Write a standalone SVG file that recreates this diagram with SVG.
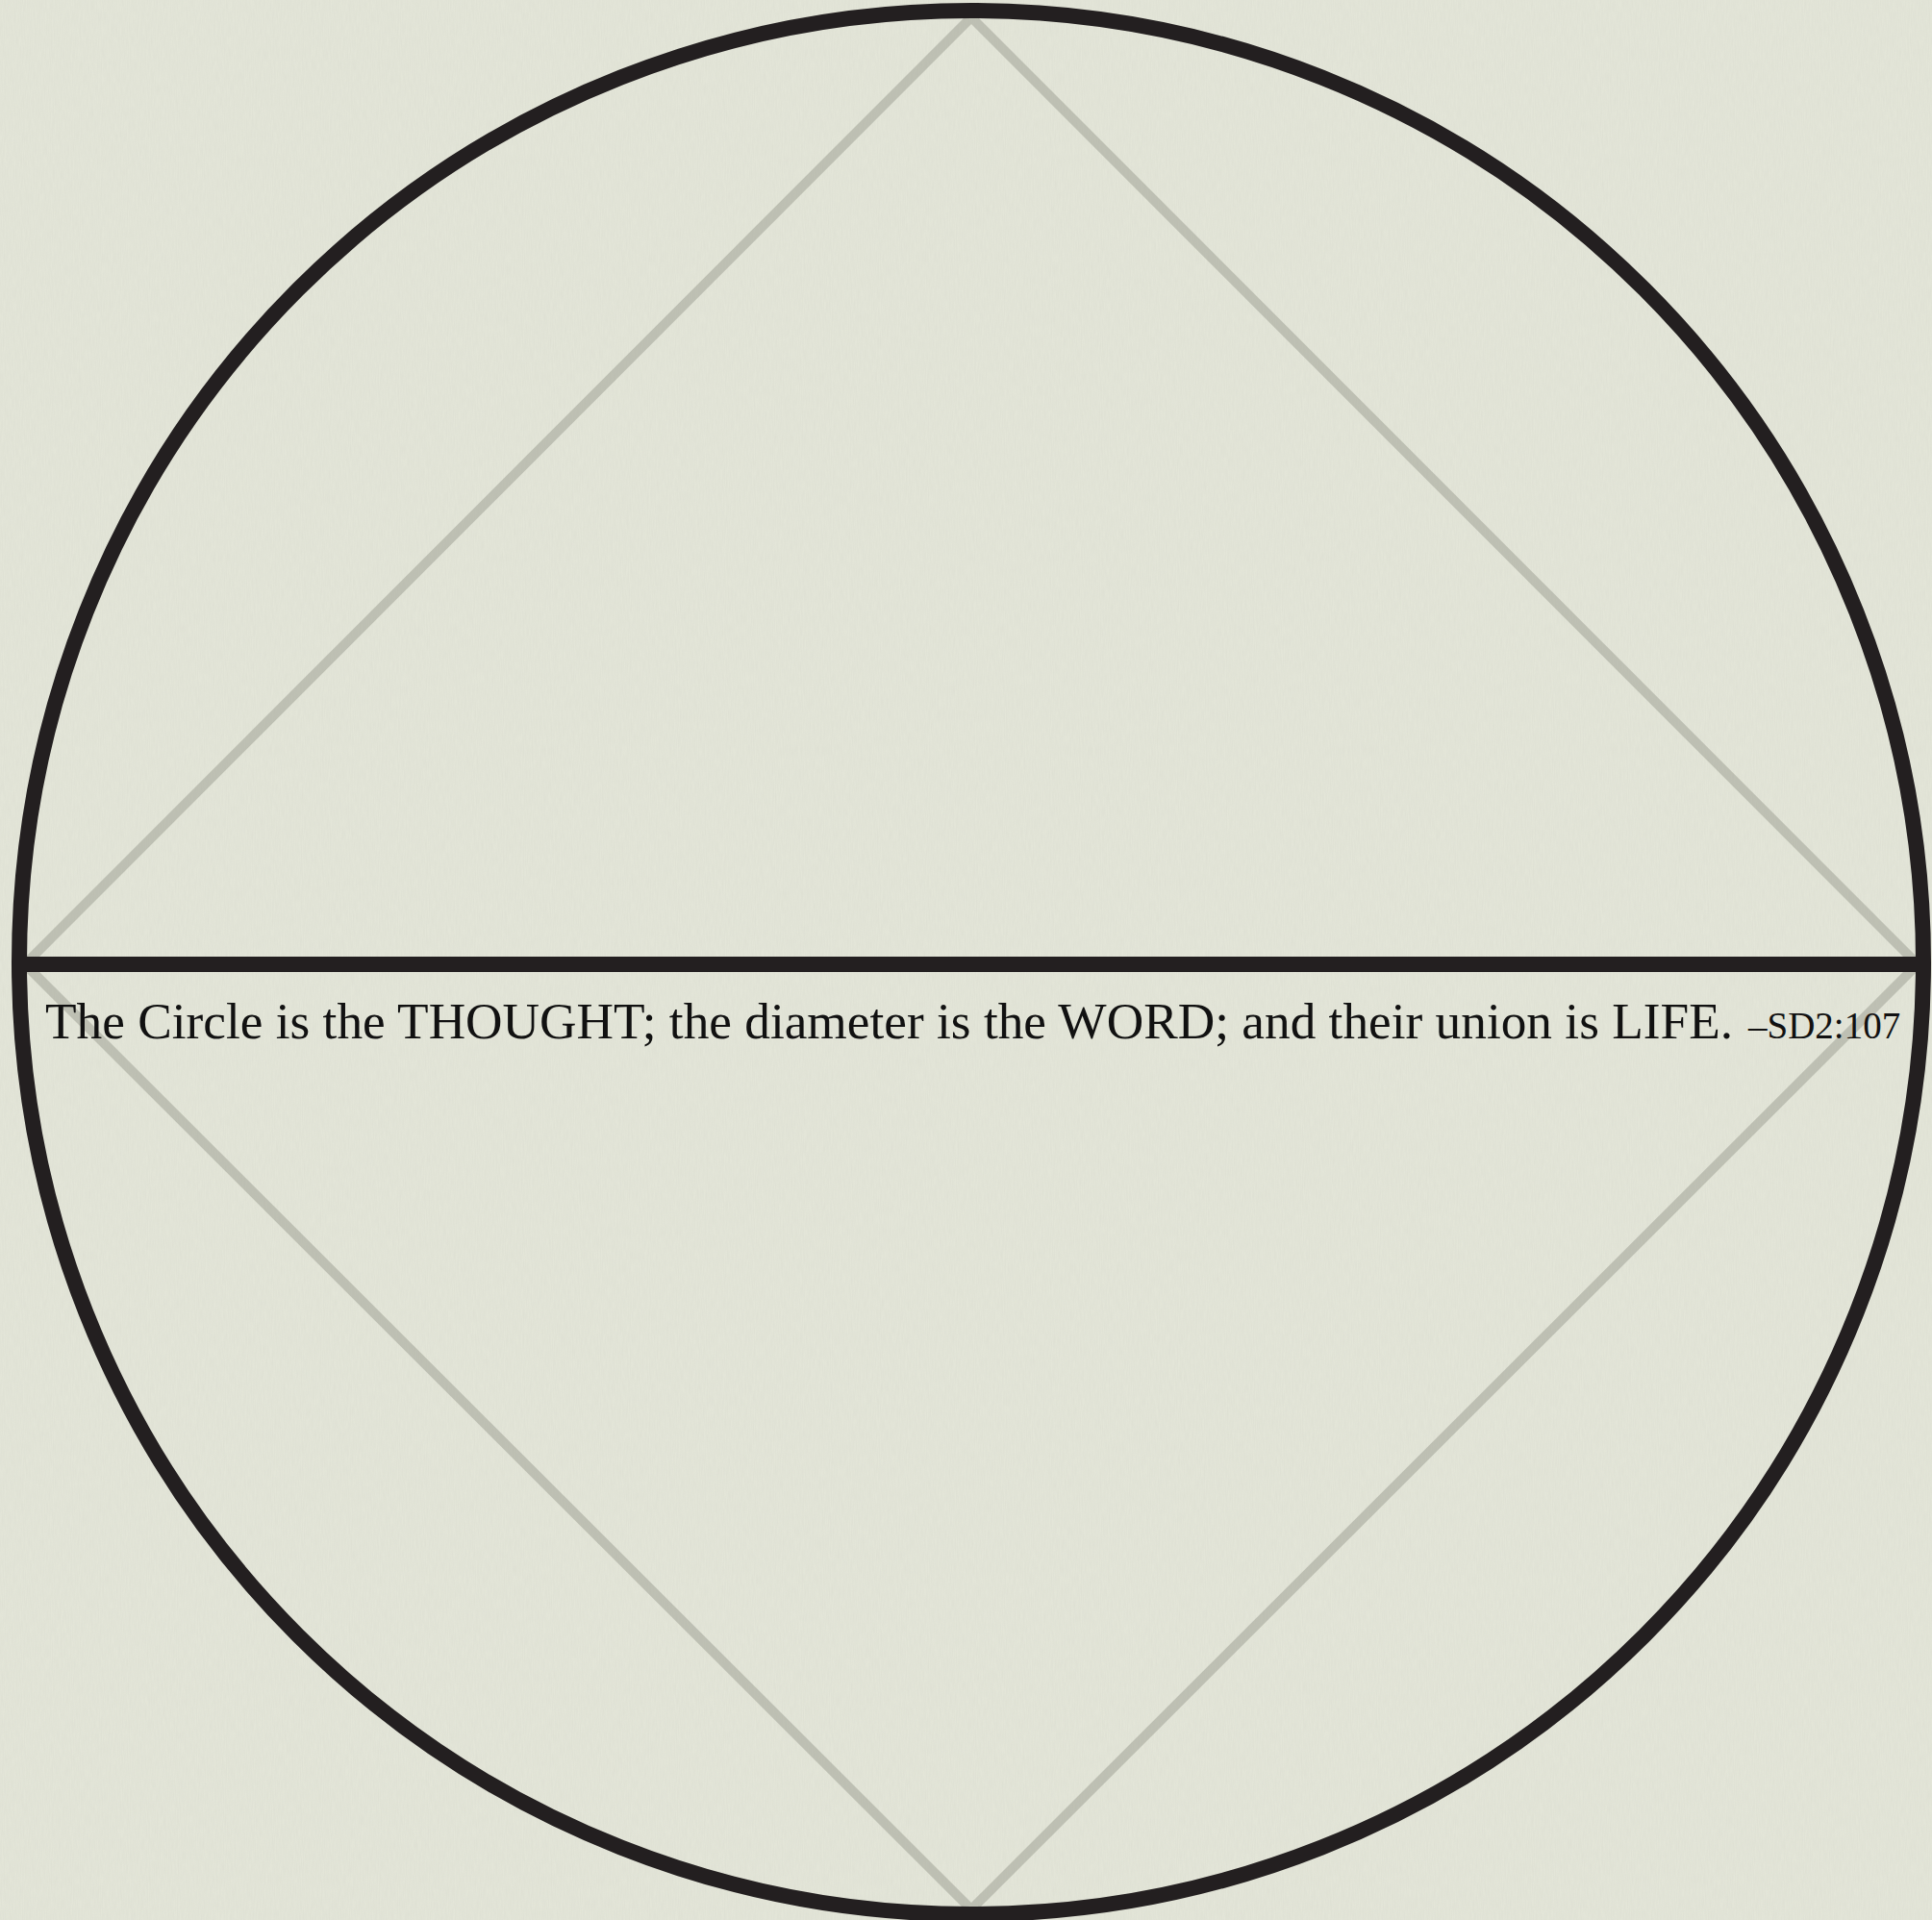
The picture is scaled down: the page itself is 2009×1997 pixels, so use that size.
<svg xmlns="http://www.w3.org/2000/svg" width="2009" height="1997" viewBox="0 0 2009 1997">
<defs>
<filter id="grain" x="0" y="0" width="100%" height="100%">
<feTurbulence type="fractalNoise" baseFrequency="0.9 0.08" numOctaves="2" seed="3" result="n"/>
<feColorMatrix in="n" type="matrix" values="0 0 0 0 0.55  0 0 0 0 0.56  0 0 0 0 0.5  0 0 0 0.35 -0.08"/>
</filter>
</defs>
<style>
.bg{fill:#e3e5d8}
.guide{fill:none;stroke:#9a9b90;stroke-opacity:0.5;stroke-width:10;stroke-linejoin:miter}
.bold{fill:none;stroke:#231f20;stroke-width:16}
.q{font-family:"Liberation Serif","Times New Roman",serif;fill:#111}
</style>
<rect class="bg" x="0" y="0" width="2009" height="1997"/>
<rect x="0" y="0" width="2009" height="1997" filter="url(#grain)" opacity="0.6"/>
<g id="guides">
<polygon class="guide" points="1010,18 26,1003 1994,1003"/>
<polygon class="guide" points="26,1003 1010,1986 1994,1003"/>
</g>
<g id="circle"><circle class="bold" cx="1010" cy="1001" r="990"/></g>
<g id="diameter"><line class="bold" x1="20" y1="1003" x2="2000" y2="1003"/></g>
<g id="quote">
<text class="q" y="1080"><tspan x="47" font-size="53.3">The Circle is the THOUGHT; the diameter is the WORD; and their union is LIFE.</tspan><tspan x="1818" font-size="39">–SD2:107</tspan></text>
</g>
</svg>
